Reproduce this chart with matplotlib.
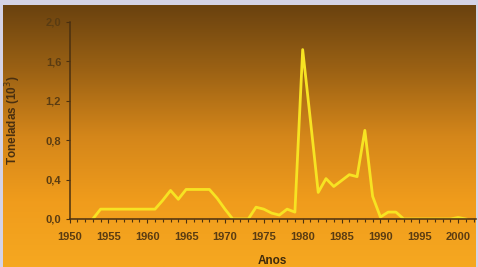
import matplotlib
matplotlib.use("agg")
import numpy as np
import matplotlib.pyplot as plt
from matplotlib.colors import LinearSegmentedColormap
from matplotlib.ticker import MultipleLocator, FuncFormatter

years = [1953, 1954, 1955, 1956, 1957, 1958, 1959, 1960,
         1961, 1962, 1963, 1964, 1965, 1966, 1967, 1968, 1969, 1970, 1971,
         1972, 1973, 1974, 1975, 1976, 1977, 1978, 1979, 1980, 1981, 1982,
         1983, 1984, 1985, 1986, 1987, 1988, 1989, 1990, 1991, 1992, 1993,
         1994, 1995, 1996, 1997, 1998, 1999, 2000, 2001]
tons = [0.0, 0.10, 0.10, 0.10, 0.10, 0.10, 0.10, 0.10,
        0.10, 0.19, 0.29, 0.20, 0.30, 0.30, 0.30, 0.30, 0.21, 0.10, 0.0,
        0.0, 0.0, 0.12, 0.10, 0.06, 0.04, 0.10, 0.07, 1.72, 1.00, 0.27,
        0.41, 0.33, 0.39, 0.45, 0.43, 0.90, 0.23, 0.02, 0.07, 0.07, 0.0,
        0.0, 0.0, 0.0, 0.0, 0.0, 0.0, 0.015, 0.0]

W, H = 478, 267
fig = plt.figure(figsize=(W / 100, H / 100), dpi=100)
fig.patch.set_facecolor("#d4d3e6")

# gradient background panel
bg = fig.add_axes([3 / W, 0, 472 / W, 262 / H])
cmap = LinearSegmentedColormap.from_list(
    "bg", ["#6a420f", "#9c6214", "#d4861a", "#f09c1c", "#f6a820"])
bg.imshow(np.linspace(0, 1, 256).reshape(-1, 1), aspect="auto", cmap=cmap,
          extent=[0, 1, 0, 1])
bg.axis("off")

txt = "#5a3c12"
ax = fig.add_axes([69.5 / W, 48 / H, (476 - 69.5) / W, (245 - 48) / H])
ax.patch.set_alpha(0)
ax.plot(years, tons, color="#f7e322", lw=2.0, solid_joinstyle="round")

ax.set_xlim(1950, 2002.3)
ax.set_ylim(0, 2.0)
ax.xaxis.set_major_locator(MultipleLocator(5))
ax.xaxis.set_minor_locator(MultipleLocator(1))
ax.yaxis.set_major_locator(MultipleLocator(0.4))
ax.yaxis.set_major_formatter(FuncFormatter(lambda v, p: f"{v:.1f}".replace(".", ",")))

for s in ["top", "right"]:
    ax.spines[s].set_visible(False)
for s in ["left", "bottom"]:
    ax.spines[s].set_color("#4a3010")
    ax.spines[s].set_linewidth(1.1)

ax.tick_params(axis="both", colors="#4a3010", labelcolor=txt, labelsize=8,
               length=3, width=0.8, pad=3)
ax.tick_params(axis="x", pad=6)
ax.tick_params(axis="x", which="minor", length=2, width=0.8, colors="#4a3010")
for lab in ax.get_xticklabels() + ax.get_yticklabels():
    lab.set_family("Liberation Sans")
    lab.set_fontweight("bold")

ax.set_xlabel("Anos", fontsize=8.5, fontweight="bold", color="#3e2a0c",
              family="Liberation Sans", labelpad=10)
ax.set_ylabel("Toneladas (10$^3$)", fontsize=8.5, fontweight="bold", color="#4a3010",
              family="Liberation Sans", labelpad=16)

fig.savefig("out.png", dpi=100, facecolor=fig.get_facecolor())
